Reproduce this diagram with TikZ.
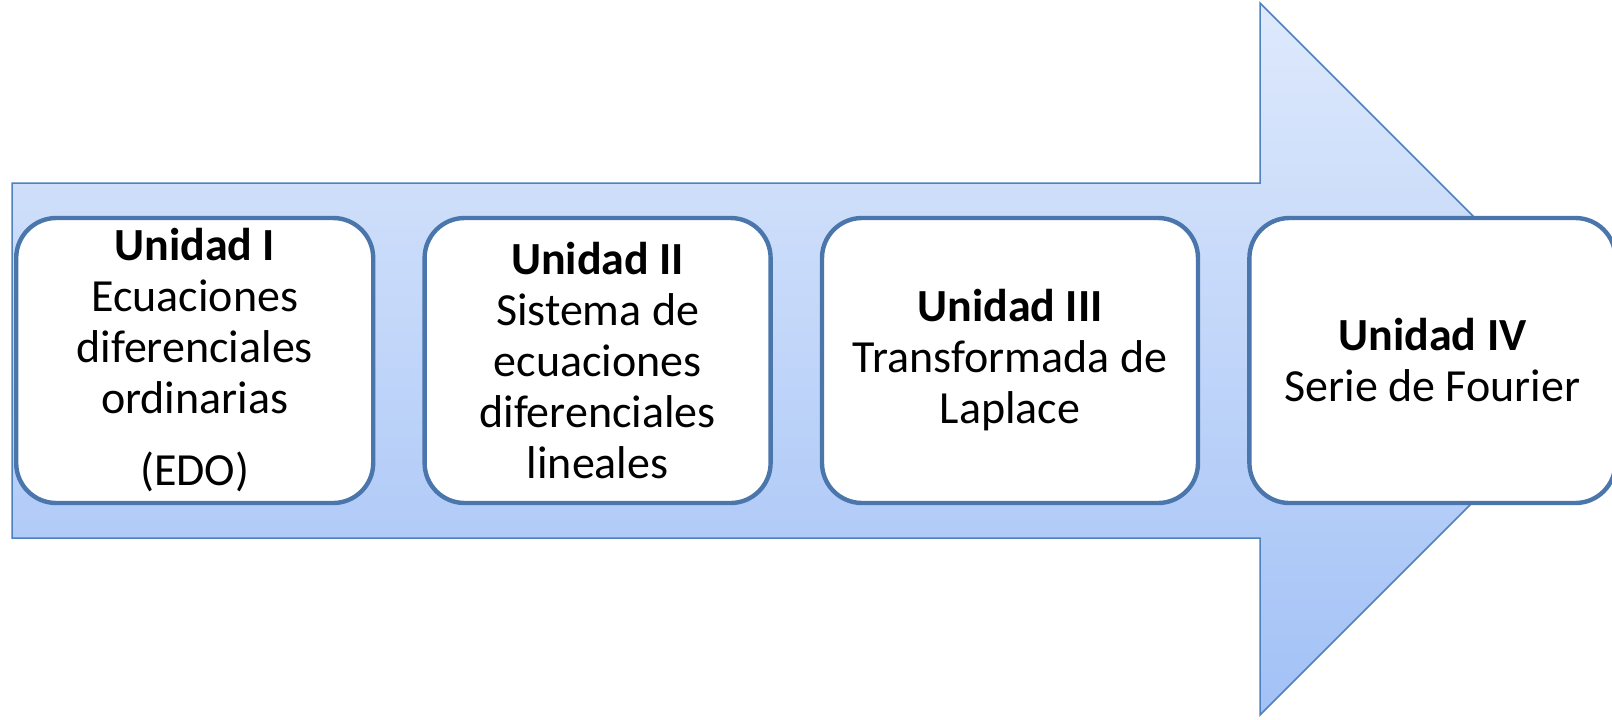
\documentclass[tikz,border=0pt]{standalone}
\usepackage{fontspec}
\setmainfont{Carlito}
\usetikzlibrary{positioning}
\definecolor{cajaborde}{HTML}{4A76AC}
\definecolor{flechaborde}{HTML}{4F81BD}
\definecolor{flechaarriba}{RGB}{222,233,252}
\definecolor{flechaabajo}{RGB}{162,193,246}

\tikzset{
	unidad/.style={draw=cajaborde, line width=2.2pt, fill=white, rounded corners=20pt,
		align=center, minimum height=142.5pt, inner sep=0pt,
		font=\fontsize{23pt}{25.5pt}\selectfont},
}

\begin{document}
\begin{tikzpicture}[x=0.5pt,y=0.5pt,yscale=-1,xscale=1]
	\useasboundingbox (0,0) rectangle (1612,719);
	% flecha de fondo
	\begin{scope}
	\clip (0,0) rectangle (1612,719);
	\draw [draw=flechaborde, line width=0.75pt, top color=flechaarriba, bottom color=flechaabajo] (12,183) -- (1260,183) -- (1260,3) -- (1616,359) -- (1260,715) -- (1260,538) -- (12,538) -- cycle ;
	\end{scope}
	% unidades
	\node [unidad, minimum width=178.5pt, anchor=west] (u1) at (14,360.5) {\textbf{Unidad I}\\Ecuaciones\\diferenciales\\ordinarias\\[10.5pt](EDO)};
	\node [unidad, minimum width=173pt, right=23.5pt of u1] (u2) {\textbf{Unidad II}\\Sistema de\\ecuaciones\\diferenciales\\lineales};
	\node [unidad, minimum width=188pt, right=23.5pt of u2] (u3) {\textbf{Unidad III}\\Transformada de\\Laplace};
	\node [unidad, minimum width=183pt, right=23.5pt of u3] (u4) {\textbf{Unidad IV}\\Serie de Fourier};
\end{tikzpicture}
\end{document}
